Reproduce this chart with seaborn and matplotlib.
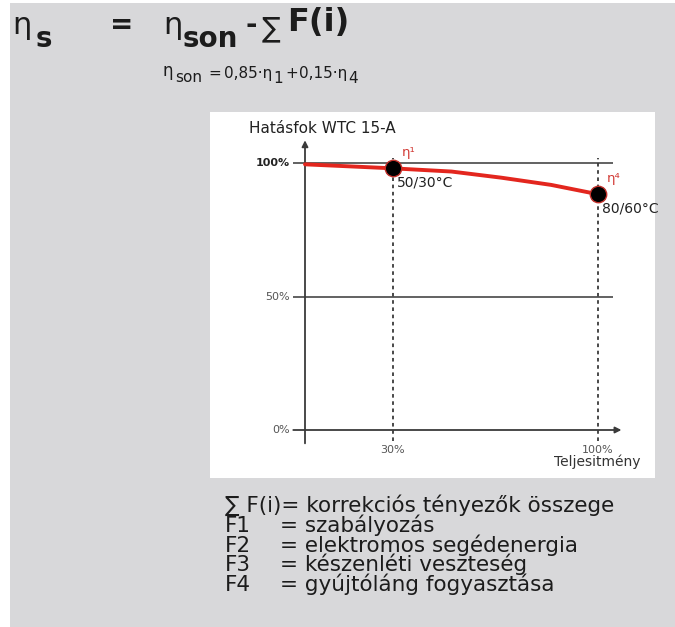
import matplotlib
matplotlib.use("Agg")
import matplotlib.pyplot as plt
import seaborn as sns
from matplotlib.patches import Rectangle

# efficiency curve (load % -> efficiency %)
load_pct = [0, 30, 50, 67, 84, 100]
eff_pct = [99.5, 98.0, 96.8, 94.5, 91.8, 88.3]

# the two marked operating points
point_load = [30, 100]
point_eff = [98.0, 88.3]
point_names = ["η¹", "η⁴"]
point_temps = ["50/30°C", "80/60°C"]

ytick_vals = [0, 50, 100]
ytick_labels = ["0%", "50%", "100%"]
xtick_vals = [30, 100]
xtick_labels = ["30%", "100%"]

chart_title = "Hatásfok WTC 15-A"
x_title = "Teljesitmény"

legend_keys = ["F1", "F2", "F3", "F4"]
legend_texts = ["szabályozás", "elektromos segédenergia",
                "készenléti veszteség", "gyújtóláng fogyasztása"]
legend_head = "∑ F(i)= korrekciós tényezők összege"

W, H = 675, 627
sns.set_style("white")
plt.rcParams["font.family"] = ["DejaVu Sans"]

fig = plt.figure(figsize=(W / 100, H / 100), dpi=100)
fig.patch.set_facecolor("white")


def fx(x):
    return x / W


def fy(y):
    return 1 - y / H


# grey page and white chart panel (behind the axes)
fig.patches.append(Rectangle((fx(10), -0.01), 1, 1.01 - 3 / H, transform=fig.transFigure,
                             facecolor="#d8d8da", edgecolor="none", zorder=-3))
fig.patches.append(Rectangle((fx(210), fy(478)), 445 / W, 366 / H, transform=fig.transFigure,
                             facecolor="white", edgecolor="none", zorder=-2))

# formula lines at the top
ink = "#1c1c1c"
big = 21
fig.text(fx(12), fy(34), "η", fontsize=big + 1, color=ink)
fig.text(fx(36), fy(47), "s", fontsize=big - 1, fontweight="bold", color=ink)
fig.text(fx(110), fy(33), "=", fontsize=big - 1, fontweight="bold", color=ink)
fig.text(fx(163), fy(34), "η", fontsize=big + 1, color=ink)
fig.text(fx(183), fy(47), "son", fontsize=big - 1, fontweight="bold", color=ink)
fig.text(fx(245), fy(33), "-", fontsize=big - 1, fontweight="bold", color=ink)
fig.text(fx(262), fy(36), "∑", fontsize=big - 1, color=ink)
fig.text(fx(287), fy(31), "F(i)", fontsize=big + 2, fontweight="bold", color=ink)

small = 11
fig.text(fx(163), fy(76), "η", fontsize=small + 1, color=ink)
fig.text(fx(175), fy(82), "son", fontsize=small, color=ink)
fig.text(fx(208), fy(78), "=", fontsize=small, color=ink)
fig.text(fx(224), fy(78), "0,85·η", fontsize=small, color=ink)
fig.text(fx(273), fy(83), "1", fontsize=small, color=ink)
fig.text(fx(285), fy(78), "+", fontsize=small, color=ink)
fig.text(fx(299), fy(78), "0,15·η", fontsize=small, color=ink)
fig.text(fx(348), fy(83), "4", fontsize=small, color=ink)

# chart axes: 0..100 % mapped onto the drawn axis lines
x0, x_scale = 305, 2.93
y0, y_scale = 430, 2.67
xlim = (-6, 110)
ylim = (-7, 112)
left = x0 + xlim[0] * x_scale
right = x0 + xlim[1] * x_scale
bottom = y0 - ylim[0] * y_scale
top = y0 - ylim[1] * y_scale
ax = fig.add_axes([fx(left), fy(bottom), (right - left) / W, (bottom - top) / H])
ax.set_xlim(xlim)
ax.set_ylim(ylim)
ax.set_axis_off()

axis_col = "#3a3a3a"
ax.hlines([50, 100], -4, 105, color="#555555", lw=1.3, zorder=1)
ax.vlines(xtick_vals, -4, 102, color=axis_col, lw=1.3, linestyles=(0, (2, 2)), zorder=1)
ax.annotate("", xy=(0, 108.5), xytext=(0, -5),
            arrowprops=dict(arrowstyle="-|>", color=axis_col, lw=1.3, mutation_scale=9,
                            shrinkA=0, shrinkB=0))
ax.annotate("", xy=(108, 0), xytext=(-4, 0),
            arrowprops=dict(arrowstyle="-|>", color=axis_col, lw=1.3, mutation_scale=9,
                            shrinkA=0, shrinkB=0))

sns.lineplot(x=load_pct, y=eff_pct, color="#e3261e", lw=2.8, ax=ax, zorder=3)
sns.scatterplot(x=point_load, y=point_eff, s=140, color="black", edgecolor="#c0302a",
                linewidth=1, ax=ax, zorder=4)

for v, lab in zip(ytick_vals, ytick_labels):
    bold = v == 100
    ax.text(-5.2, v, lab, ha="right", va="center", fontsize=8,
            fontweight="bold" if bold else "normal",
            color="#222222" if bold else "#555555")
for v, lab in zip(xtick_vals, xtick_labels):
    ax.text(v, -7.5, lab, ha="center", va="center", fontsize=8, color="#555555")
ax.text(114.5, -12, x_title, ha="right", va="center", fontsize=10, color="#333333")

for xv, yv, name, temp in zip(point_load, point_eff, point_names, point_temps):
    ax.text(xv + 3, yv + 5.8, name, ha="left", va="center", fontsize=9.5, color="#d23a35")
    ax.text(xv + 1.4, yv - 5.3, temp, ha="left", va="center", fontsize=10, color="#222222")

fig.text(fx(249), fy(133), chart_title, fontsize=11, color="#222222")

# explanation block below the chart
leg = 15.5
fig.text(fx(225), fy(512), legend_head, fontsize=leg, color=ink)
for i, (key, txt) in enumerate(zip(legend_keys, legend_texts)):
    yb = 532 + i * 19.7
    fig.text(fx(225), fy(yb), key, fontsize=leg, color=ink)
    fig.text(fx(280), fy(yb), "= " + txt, fontsize=leg, color=ink)

fig.savefig("out.png", dpi=100)
